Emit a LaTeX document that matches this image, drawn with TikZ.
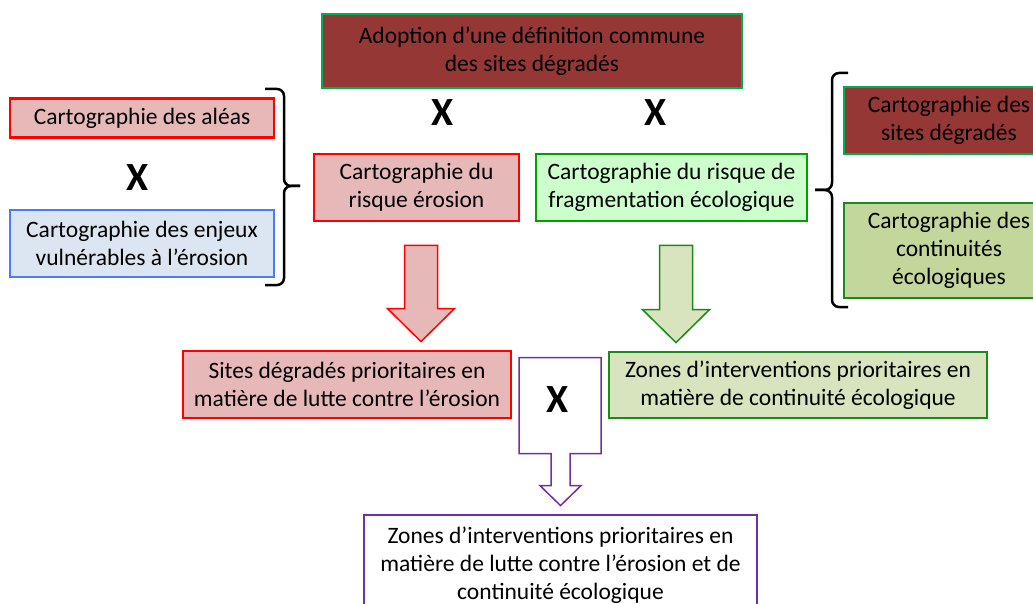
\documentclass[tikz,border=0pt]{standalone}
\usepackage{fontspec}
\setmainfont{Carlito}
\usetikzlibrary{calc}
\definecolor{roseC}{HTML}{E6B9B8}
\definecolor{rougeT}{HTML}{FF0000}
\definecolor{bordeaux}{HTML}{953735}
\definecolor{vertT}{HTML}{00B050}
\definecolor{bleuC}{HTML}{DCE6F2}
\definecolor{bleuT}{HTML}{4A7BFF}
\definecolor{vertP}{HTML}{CCFFCC}
\definecolor{vertM}{HTML}{00A000}
\definecolor{olive}{HTML}{C3D69B}
\definecolor{vertF}{HTML}{1A8A1A}
\definecolor{vertZ}{HTML}{D7E4BD}
\definecolor{violet}{HTML}{7030A0}
\tikzset{
  boite/.style={draw, line width=2.8pt, align=center, inner sep=0pt, font=\fontsize{23.5}{28}\selectfont},
  croix/.style={font=\fontsize{40}{40}\selectfont\bfseries},
  accolade/.style={line width=2.5pt, rounded corners=7pt},
  fleche/.style={line width=1.5pt, line join=miter},
}
\def\flecheBloc[#1](#2)(#3){\draw[fleche,#1] ($(#2.south)+(-12,23)$) -- ($(#2.south)+(21,23)$) -- ($(#3.north -| #2.south)+(21,-41)$) -- ($(#3.north -| #2.south)+(38,-41)$) -- ($(#3.north -| #2.south)+(4.5,-8)$) -- ($(#3.north -| #2.south)+(-29,-41)$) -- ($(#3.north -| #2.south)+(-12,-41)$) -- cycle;}

\begin{document}
\begin{tikzpicture}[x=1pt, y=-1pt]
	\clip (0,0) rectangle (1033,604);
	\fill[white] (0,0) rectangle (1033,604);
	
	\node[boite, draw=vertT, fill=bordeaux, minimum width=420, minimum height=74] (defin) at (532,51) {Adoption d’une définition commune\\des sites dégradés};
	\node[croix] (croixA) at (443,113) {X};
	\node[croix] (croixB) at (656,113) {X};
	
	\node[boite, draw=rougeT, fill=roseC, minimum width=264, minimum height=39] (aleas) at (142,118) {Cartographie des aléas};
	\node[croix] (croixG) at (138,178) {X};
	\node[boite, draw=bleuT, fill=bleuC, minimum width=264, minimum height=67] (enjeux) at (142,243.5) {Cartographie des enjeux\\vulnérables à l’érosion};
	\draw[accolade] (265,89) -- (284,89) -- (284,186) -- (300,186);
	\draw[accolade] (300,186) -- (284,186) -- (284,285) -- (265,285);
	
	\node[boite, draw=rougeT, fill=roseC, minimum width=205, minimum height=67] (risqEro) at (416.5,187.5) {Cartographie du\\risque érosion};
	\node[boite, draw=vertM, fill=vertP, minimum width=271, minimum height=67] (risqFrag) at (671.5,187.5) {Cartographie du risque de\\fragmentation écologique};
	
	\draw[accolade] (848,73) -- (832,73) -- (832,190) -- (815,190);
	\draw[accolade] (815,190) -- (832,190) -- (832,307) -- (848,307);
	\node[boite, draw=vertT, fill=bordeaux, minimum width=210, minimum height=67] (sitesDeg) at (949,120.5) {Cartographie des\\sites dégradés};
	\node[boite, draw=vertF, fill=olive, minimum width=210, minimum height=95] (continu) at (949,250.5) {Cartographie des\\continuités\\écologiques};
	
	\node[boite, draw=rougeT, fill=roseC, minimum width=328, minimum height=67] (sitesPrio) at (347,384.5) {Sites dégradés prioritaires en\\matière de lutte contre l’érosion};
	\node[boite, draw=vertF, fill=vertZ, minimum width=378, minimum height=66] (zonesCont) at (798,385) {Zones d’interventions prioritaires en\\matière de continuité écologique};
	\node[boite, draw=violet, minimum width=393, minimum height=100] (zonesFin) at (560.5,565) {Zones d’interventions prioritaires en\\matière de lutte contre l’érosion et de\\continuité écologique};
	
	\flecheBloc[draw=rougeT, fill=roseC](risqEro)(sitesPrio)
	\flecheBloc[draw=vertF, fill=vertZ](risqFrag)(zonesCont)
	
	\draw[fleche, draw=violet, fill=white] ($(zonesFin.north)+(0,-8)$) -- ++(20.5,-20) -- ++(-11,0) -- ++(0,-32) -- ++(31,0) -- ++(0,-96) -- ++(-82,0) -- ++(0,96) -- ++(32,0) -- ++(0,32) -- ++(-11,0) -- cycle;
	\node[croix] (croixC) at (558,400) {X};
\end{tikzpicture}
\end{document}
